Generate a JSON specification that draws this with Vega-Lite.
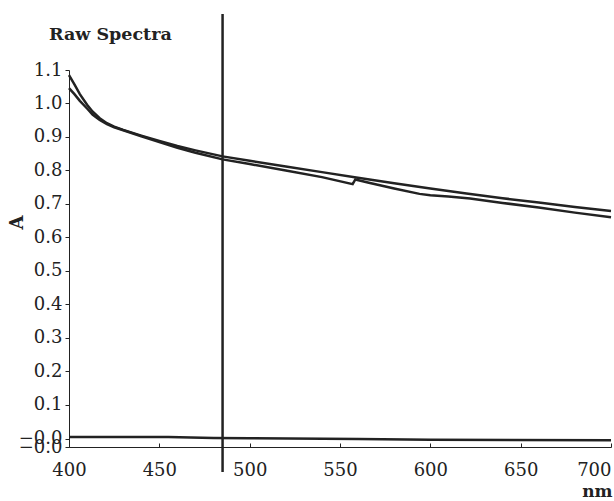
{
  "$schema": "https://vega.github.io/schema/vega-lite/v6.json",
  "autosize": {"type": "none"},
  "padding": {"left": 69, "top": 70, "right": 3, "bottom": 54},
  "width": 542,
  "height": 377,
  "background": "white",
  "config": {
    "view": {"stroke": null},
    "font": "DejaVu Serif",
    "axis": {
      "domainColor": "#222",
      "tickColor": "#222",
      "labelColor": "#222",
      "titleColor": "#222",
      "labelFont": "DejaVu Serif",
      "titleFont": "DejaVu Serif",
      "labelFontSize": 18,
      "titleFontSize": 17,
      "titleFontWeight": "bold",
      "labelOverlap": false,
      "grid": false,
      "domainWidth": 1,
      "tickWidth": 1
    }
  },
  "title": {
    "text": "Raw Spectra",
    "font": "DejaVu Serif",
    "fontSize": 17.5,
    "fontWeight": "bold",
    "color": "#222",
    "anchor": "start",
    "frame": "group",
    "dx": -20,
    "dy": 45,
    "baseline": "alphabetic",
    "offset": 0
  },
  "datasets": {
    "spectra": [
      {"nm": 400, "A": 1.085, "s": "a"},
      {"nm": 403, "A": 1.057, "s": "a"},
      {"nm": 406, "A": 1.028, "s": "a"},
      {"nm": 410, "A": 0.996, "s": "a"},
      {"nm": 413, "A": 0.976, "s": "a"},
      {"nm": 417, "A": 0.956, "s": "a"},
      {"nm": 421, "A": 0.941, "s": "a"},
      {"nm": 425, "A": 0.931, "s": "a"},
      {"nm": 430, "A": 0.921, "s": "a"},
      {"nm": 440, "A": 0.904, "s": "a"},
      {"nm": 450, "A": 0.888, "s": "a"},
      {"nm": 460, "A": 0.873, "s": "a"},
      {"nm": 470, "A": 0.86, "s": "a"},
      {"nm": 485, "A": 0.842, "s": "a"},
      {"nm": 500, "A": 0.829, "s": "a"},
      {"nm": 520, "A": 0.812, "s": "a"},
      {"nm": 540, "A": 0.795, "s": "a"},
      {"nm": 559, "A": 0.779, "s": "a"},
      {"nm": 580, "A": 0.762, "s": "a"},
      {"nm": 600, "A": 0.746, "s": "a"},
      {"nm": 620, "A": 0.731, "s": "a"},
      {"nm": 640, "A": 0.717, "s": "a"},
      {"nm": 660, "A": 0.704, "s": "a"},
      {"nm": 680, "A": 0.691, "s": "a"},
      {"nm": 700, "A": 0.679, "s": "a"},
      {"nm": 400, "A": 1.046, "s": "b"},
      {"nm": 403, "A": 1.028, "s": "b"},
      {"nm": 406, "A": 1.008, "s": "b"},
      {"nm": 410, "A": 0.985, "s": "b"},
      {"nm": 413, "A": 0.967, "s": "b"},
      {"nm": 417, "A": 0.951, "s": "b"},
      {"nm": 421, "A": 0.938, "s": "b"},
      {"nm": 425, "A": 0.929, "s": "b"},
      {"nm": 430, "A": 0.92, "s": "b"},
      {"nm": 440, "A": 0.902, "s": "b"},
      {"nm": 450, "A": 0.885, "s": "b"},
      {"nm": 460, "A": 0.868, "s": "b"},
      {"nm": 470, "A": 0.853, "s": "b"},
      {"nm": 485, "A": 0.833, "s": "b"},
      {"nm": 500, "A": 0.819, "s": "b"},
      {"nm": 520, "A": 0.8, "s": "b"},
      {"nm": 540, "A": 0.78, "s": "b"},
      {"nm": 557, "A": 0.759, "s": "b"},
      {"nm": 558.5, "A": 0.773, "s": "b"},
      {"nm": 566, "A": 0.763, "s": "b"},
      {"nm": 580, "A": 0.746, "s": "b"},
      {"nm": 594, "A": 0.73, "s": "b"},
      {"nm": 600, "A": 0.726, "s": "b"},
      {"nm": 610, "A": 0.722, "s": "b"},
      {"nm": 622, "A": 0.716, "s": "b"},
      {"nm": 640, "A": 0.703, "s": "b"},
      {"nm": 660, "A": 0.689, "s": "b"},
      {"nm": 680, "A": 0.674, "s": "b"},
      {"nm": 700, "A": 0.66, "s": "b"},
      {"nm": 400, "A": 0.004, "s": "c"},
      {"nm": 455, "A": 0.004, "s": "c"},
      {"nm": 480, "A": 0.001, "s": "c"},
      {"nm": 500, "A": 0.0, "s": "c"},
      {"nm": 560, "A": -0.002, "s": "c"},
      {"nm": 600, "A": -0.004, "s": "c"},
      {"nm": 700, "A": -0.006, "s": "c"}
    ],
    "marker": [
      {"nm": 485, "lo": -0.101, "hi": 1.267}
    ]
  },
  "layer": [
    {
      "data": {"name": "spectra"},
      "mark": {"type": "line", "color": "#222", "strokeWidth": 2.5, "interpolate": "linear"},
      "encoding": {
        "x": {
          "field": "nm", "type": "quantitative",
          "scale": {"domain": [400, 700], "nice": false, "zero": false},
          "axis": {
            "values": [400, 450, 500, 550, 600, 650, 700],
            "tickCount": 20,
            "tickSize": -4,
            "labelPadding": 18,
            "labelFlush": false,
            "labelOverlap": false,
            "labelAlign": {"condition": {"test": "datum.value >= 700", "value": "right"}, "value": "center"},
            "labelDx": {"condition": {"test": "datum.value >= 700", "value": 1}, "value": 2},
            "title": "nm",
            "titleX": 543,
            "titleY": 49,
            "titleAlign": "right",
            "titleBaseline": "alphabetic",
            "titleFontSize": 17
          }
        },
        "y": {
          "field": "A", "type": "quantitative",
          "scale": {"domain": [-0.026, 1.1], "nice": false, "zero": false},
          "axis": {
            "values": [1.1, 1.0, 0.9, 0.8, 0.7, 0.6, 0.5, 0.4, 0.3, 0.2, 0.1, -0.001, -0.026],
            "tickCount": 30,
            "labelExpr": "datum.value < 0 ? '\u22120.0' : format(datum.value, '.1f')",
            "tickSize": 4,
            "labelPadding": 3,
            "labelFlush": false,
            "labelOverlap": false,
            "labelDy": {"condition": {"test": "datum.value == -0.001", "value": -7}, "value": -2},
            "title": "A",
            "titleX": -52,
            "titleY": 152,
            "titleAlign": "center",
            "titleBaseline": "middle",
            "titleFontSize": 18
          }
        },
        "detail": {"field": "s", "type": "nominal"}
      }
    },
    {
      "data": {"name": "marker"},
      "mark": {"type": "rule", "color": "#222", "strokeWidth": 2.5},
      "encoding": {
        "x": {"field": "nm", "type": "quantitative"},
        "y": {"field": "lo", "type": "quantitative"},
        "y2": {"field": "hi"}
      }
    }
  ]
}
